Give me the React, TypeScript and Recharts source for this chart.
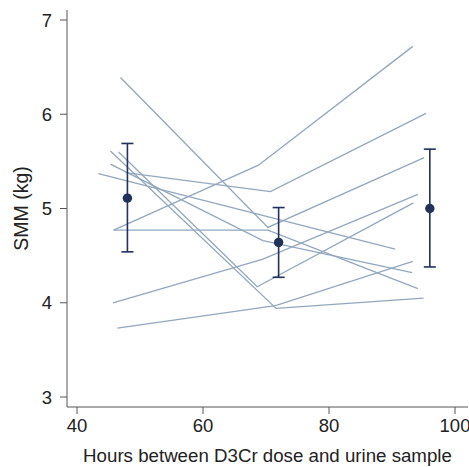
import React from 'react';
import { ComposedChart, Line, Scatter, ErrorBar, XAxis, YAxis } from 'recharts';

// individual participants: [hours, SMM kg]
const subject1 = [[46.9, 6.39], [70.3, 4.8], [95.1, 5.54]];
const subject2 = [[45.8, 4.77], [68.8, 5.46], [93.3, 6.72]];
const subject3 = [[47.7, 5.38], [70.7, 5.18], [95.4, 6.01]];
const subject4 = [[45.8, 4.77], [70.3, 4.77], [94.1, 4.15]];
const subject5 = [[45.3, 5.61], [71.6, 3.94], [95.0, 4.05]];
const subject6 = [[46.4, 3.73], [71.5, 3.97], [93.3, 4.44]];
const subject7 = [[46.6, 5.6], [68.6, 4.17], [93.4, 5.06]];
const subject8 = [[45.7, 4.0], [69.4, 4.46], [94.1, 5.15]];
const subject9 = [[45.3, 5.47], [69.5, 4.66], [93.2, 4.32]];
const subject10 = [[43.4, 5.37], [90.5, 4.57]];

const subjects = [subject1, subject2, subject3, subject4, subject5, subject6, subject7, subject8, subject9, subject10];

// group means with 95% CI
const meanHours = [48, 72, 96];
const meanSMM = [5.11, 4.64, 5.0];
const ciLow = [4.54, 4.27, 4.38];
const ciHigh = [5.69, 5.01, 5.63];

const xTicks = [40, 60, 80, 100];
const yTicks = [3, 4, 5, 6, 7];

const FONT = '"Liberation Sans", Arial, sans-serif';
const AXIS = '#555';
const TEXT = '#222';
const NAVY = '#22305c';
const GREY_BLUE = '#92a7bd';

const meanData = meanHours.map((h, i) => ({
  x: h,
  y: meanSMM[i],
  err: [meanSMM[i] - ciLow[i], ciHigh[i] - meanSMM[i]],
}));

const MeanDot = (props: any) => <circle cx={props.cx} cy={props.cy} r={4.7} fill={NAVY} />;

const App: React.FC = () => {
  return (
    <div style={{ position: 'absolute', left: 0, top: 0, background: '#fff', fontFamily: FONT }}>
      <ComposedChart width={469} height={467} margin={{ top: 10, right: 1, bottom: 0, left: 0 }}>
        <XAxis
          type="number"
          dataKey="x"
          domain={[38.41, 102.06]}
          allowDataOverflow
          ticks={xTicks}
          tickSize={7}
          tickMargin={5}
          height={60}
          stroke={AXIS}
          tick={{ fill: TEXT, fontSize: 18.5, fontFamily: FONT }}
          label={{ value: 'Hours between D3Cr dose and urine sample', position: 'insideBottom', offset: 5, fill: TEXT, fontSize: 18.7, fontFamily: FONT }}
        />
        <YAxis
          type="number"
          dataKey="y"
          domain={[2.894, 7.106]}
          allowDataOverflow
          ticks={yTicks}
          tickSize={7}
          tickMargin={8}
          width={67}
          stroke={AXIS}
          tick={{ fill: TEXT, fontSize: 18.5, fontFamily: FONT }}
          label={{ value: 'SMM (kg)', angle: -90, position: 'insideLeft', offset: 21, fill: TEXT, fontSize: 19.5, fontFamily: FONT, style: { textAnchor: 'middle' } }}
        />
        {subjects.map((s, i) => (
          <Line
            key={`subj-${i}`}
            data={s.map(p => ({ x: p[0], y: p[1] }))}
            dataKey="y"
            stroke={GREY_BLUE}
            strokeWidth={1.3}
            dot={false}
            activeDot={false}
            isAnimationActive={false}
          />
        ))}
        <Scatter data={meanData} dataKey="y" fill={NAVY} shape={MeanDot} isAnimationActive={false}>
          <ErrorBar dataKey="err" direction="y" width={6} stroke={NAVY} strokeWidth={1.6} isAnimationActive={false} />
        </Scatter>
      </ComposedChart>
    </div>
  );
};

export default App;
